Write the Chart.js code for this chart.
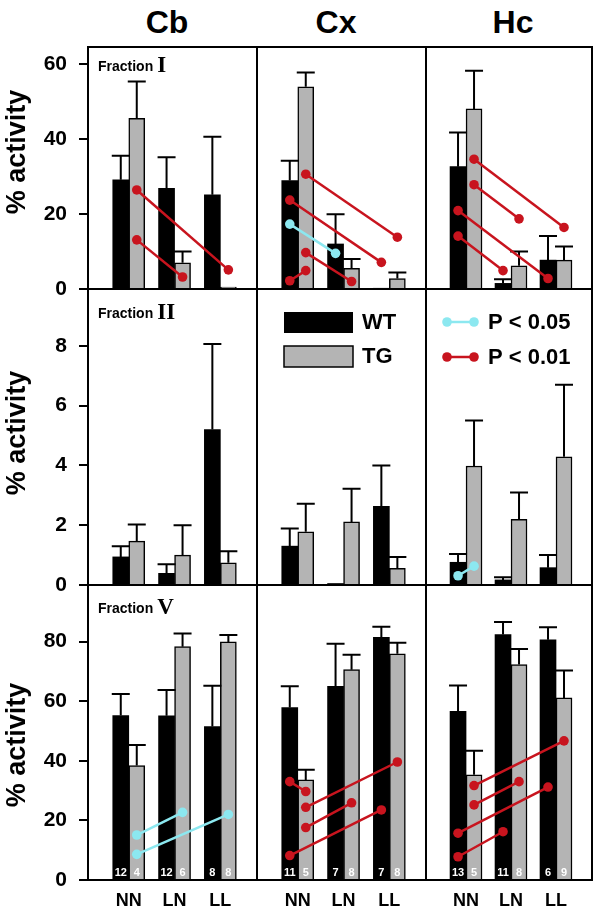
<!DOCTYPE html>
<html>
<head>
<meta charset="utf-8">
<script src="https://cdn.jsdelivr.net/npm/chart.js@4.4.1/dist/chart.umd.min.js"></script>
<style>
  html, body { margin: 0; padding: 0; background: #fff; }
  #fig { position: relative; width: 600px; height: 910px; overflow: hidden; font-family: 'Liberation Sans', Arial, sans-serif; }
  #fig canvas { position: absolute; }
  .col-title { position: absolute; top: 6px; width: 100px; margin-left: -50px; text-align: center;
               font-weight: bold; font-size: 32px; line-height: 32px; color: #000; }
</style>
</head>
<body>
<div id="fig">
  <div class="col-title" style="left:167px">Cb</div>
  <div class="col-title" style="left:336px">Cx</div>
  <div class="col-title" style="left:513px">Hc</div>
</div>
<script>
// categories
const groups = ['NN', 'LN', 'LL'];
const regions = ['Cb', 'Cx', 'Hc'];
const fractions = ['I', 'II', 'V'];

// % activity, one row per region (Cb, Cx, Hc), one value per group (NN, LN, LL)
const wtI      = [[29.1, 26.8, 25.1], [28.9, 12.0, 0.2], [32.6, 1.5, 7.7]];
const wtI_sem  = [[6.4, 8.3, 15.5], [5.3, 7.9, 0], [9.1, 1.1, 6.4]];
const tgI      = [[45.5, 7.0, 0.5], [53.9, 5.5, 2.8], [48.0, 6.2, 7.7]];
const tgI_sem  = [[9.8, 3.0, 0], [3.8, 2.5, 1.6], [10.2, 3.8, 3.6]];

const wtII     = [[0.94, 0.39, 5.2], [1.3, 0.05, 2.63], [0.76, 0.17, 0.58]];
const wtII_sem = [[0.36, 0.30, 2.86], [0.59, 0, 1.37], [0.28, 0.09, 0.42]];
const tgII     = [[1.47, 1.0, 0.74], [1.78, 2.11, 0.56], [3.98, 2.2, 4.29]];
const tgII_sem = [[0.55, 1.0, 0.39], [0.94, 1.11, 0.38], [1.52, 0.89, 2.41]];

const wtV      = [[55.2, 55.1, 51.5], [57.9, 65.0, 81.4], [56.6, 82.4, 80.6]];
const wtV_sem  = [[7.2, 8.7, 13.7], [7.1, 14.3, 3.6], [8.7, 4.2, 4.2]];
const tgV      = [[38.4, 78.3, 79.9], [33.6, 70.6, 75.9], [35.3, 72.3, 61.1]];
const tgV_sem  = [[6.9, 4.4, 2.3], [3.4, 5.0, 3.7], [8.1, 5.2, 9.2]];

// number of animals
const nWT = [[12, 12, 8], [11, 7, 7], [13, 11, 6]];
const nTG = [[4, 6, 8], [5, 8, 8], [5, 8, 9]];

// y axes
const yMax  = [64.5, 9.9, 99];
const yStep = [20, 2, 20];

// significant pairs: [p, group, genotype, value, group, genotype, value]
const sigI = [
  [[0.01,'NN','TG',26.4,'LL','TG',5.1], [0.01,'NN','TG',13.1,'LN','TG',3.2]],
  [[0.01,'NN','TG',30.6,'LL','TG',13.8], [0.01,'NN','WT',23.7,'LL','WT',7.1], [0.05,'NN','WT',17.3,'LN','WT',9.5],
   [0.01,'NN','TG',9.7,'LN','TG',2.0], [0.01,'NN','WT',2.2,'NN','TG',4.9]],
  [[0.01,'NN','TG',34.6,'LL','TG',16.4], [0.01,'NN','TG',27.8,'LN','TG',18.7], [0.01,'NN','WT',20.9,'LL','WT',2.8],
   [0.01,'NN','WT',14.1,'LN','WT',4.9]]
];
const sigII = [[], [], [[0.05,'NN','WT',0.31,'NN','TG',0.63]]];
const sigV = [
  [[0.05,'NN','TG',15.1,'LN','TG',22.7], [0.05,'NN','TG',8.6,'LL','TG',22.0]],
  [[0.01,'NN','WT',33.0,'NN','TG',29.7], [0.01,'NN','TG',24.4,'LL','TG',39.6], [0.01,'NN','TG',17.6,'LN','TG',25.9],
   [0.01,'NN','WT',8.2,'LL','WT',23.5]],
  [[0.01,'NN','TG',31.7,'LL','TG',46.7], [0.01,'NN','TG',25.2,'LN','TG',33.0], [0.01,'NN','WT',15.7,'LL','WT',31.2],
   [0.01,'NN','WT',7.8,'LN','WT',16.2]]
];

const rowsWT  = [wtI, wtII, wtV],  rowsWTsem = [wtI_sem, wtII_sem, wtV_sem];
const rowsTG  = [tgI, tgII, tgV],  rowsTGsem = [tgI_sem, tgII_sem, tgV_sem];
const rowsSig = [sigI, sigII, sigV];

// layout of the panel grid (page pixels)
const colL = [88, 257, 426], colR = [257, 426, 592];
const rowT = [47, 289, 585], rowB = [289, 585, 880];
const M = 16;
const FONT = "'Liberation Sans', Arial, sans-serif";
const GRAY = '#b4b4b4', RED = '#c8141e', CYAN = '#8ce8f0';
const titleMid = [105, 144, 160];
const fracBase = [24, 29, 28];

const fig = document.getElementById('fig');

function dot(ctx, x, y, col) {
  ctx.fillStyle = col;
  ctx.beginPath(); ctx.arc(x, y, 4.8, 0, Math.PI * 2); ctx.fill();
}

function decor(r, c) {
  return {
    id: 'decor',
    afterDatasetsDraw(chart) {
      const {ctx, chartArea: a, scales: {y}} = chart;
      const means = [rowsWT[r][c], rowsTG[r][c]];
      const sems = [rowsWTsem[r][c], rowsTGsem[r][c]];
      ctx.save();
      // error bars (upper only)
      ctx.strokeStyle = '#000'; ctx.lineWidth = 2;
      [0, 1].forEach(di => {
        chart.getDatasetMeta(di).data.forEach((bar, i) => {
          if (!sems[di][i]) return;
          const yt = y.getPixelForValue(means[di][i] + sems[di][i]);
          ctx.beginPath();
          ctx.moveTo(bar.x, bar.y); ctx.lineTo(bar.x, yt);
          ctx.moveTo(bar.x - 9, yt); ctx.lineTo(bar.x + 9, yt);
          ctx.stroke();
        });
      });
      // n per bar
      if (r === 2) {
        ctx.fillStyle = '#fff';
        ctx.font = 'bold 11px ' + FONT;
        ctx.textAlign = 'center'; ctx.textBaseline = 'middle';
        [nWT[c], nTG[c]].forEach((ns, di) => {
          chart.getDatasetMeta(di).data.forEach((bar, i) => ctx.fillText(String(ns[i]), bar.x, a.bottom - 7));
        });
      }
      // significance lines
      rowsSig[r][c].forEach(s => {
        const col = s[0] === 0.05 ? CYAN : RED;
        const b1 = chart.getDatasetMeta(s[2] === 'WT' ? 0 : 1).data[groups.indexOf(s[1])];
        const b2 = chart.getDatasetMeta(s[5] === 'WT' ? 0 : 1).data[groups.indexOf(s[4])];
        const y1 = y.getPixelForValue(s[3]), y2 = y.getPixelForValue(s[6]);
        ctx.strokeStyle = col; ctx.lineWidth = 2.5;
        ctx.beginPath(); ctx.moveTo(b1.x, y1); ctx.lineTo(b2.x, y2); ctx.stroke();
        dot(ctx, b1.x, y1, col); dot(ctx, b2.x, y2, col);
      });
      ctx.restore();
    },
    afterDraw(chart) {
      const {ctx, chartArea: a} = chart;
      ctx.save();
      ctx.strokeStyle = '#000'; ctx.lineWidth = 2;
      ctx.strokeRect(a.left, a.top, a.right - a.left, a.bottom - a.top);
      ctx.fillStyle = '#000';
      if (c === 0) {
        // fraction label
        ctx.textBaseline = 'alphabetic'; ctx.textAlign = 'left';
        ctx.font = 'bold 14px ' + FONT;
        const fx = a.left + 10, fy = a.top + fracBase[r];
        ctx.fillText('Fraction', fx, fy);
        const w = ctx.measureText('Fraction').width;
        ctx.font = "bold 23px 'Liberation Serif', 'Times New Roman', serif";
        ctx.fillText(fractions[r], fx + w + 4, fy + 1);
        // axis title
        ctx.save();
        ctx.translate(18, a.top + titleMid[r]);
        ctx.rotate(-Math.PI / 2);
        ctx.font = 'bold 27px ' + FONT;
        ctx.textAlign = 'center'; ctx.textBaseline = 'middle';
        ctx.fillText('% activity', 0, 0);
        ctx.restore();
      }
      if (r === 1 && c === 1) {
        ctx.lineWidth = 1.5;
        ctx.fillStyle = '#000';
        ctx.fillRect(a.left + 27, a.top + 23, 69, 21);
        ctx.fillStyle = GRAY;
        ctx.fillRect(a.left + 27, a.top + 57, 69, 21);
        ctx.strokeRect(a.left + 27, a.top + 57, 69, 21);
        ctx.fillStyle = '#000';
        ctx.font = 'bold 22px ' + FONT;
        ctx.textAlign = 'left'; ctx.textBaseline = 'middle';
        ctx.fillText('WT', a.left + 105, a.top + 34);
        ctx.fillText('TG', a.left + 105, a.top + 68);
      }
      if (r === 1 && c === 2) {
        [[CYAN, 'P < 0.05', 33], [RED, 'P < 0.01', 68]].forEach(([col, txt, yy]) => {
          ctx.strokeStyle = col; ctx.lineWidth = 2.5;
          ctx.beginPath(); ctx.moveTo(a.left + 21, a.top + yy); ctx.lineTo(a.left + 48, a.top + yy); ctx.stroke();
          dot(ctx, a.left + 21, a.top + yy, col); dot(ctx, a.left + 48, a.top + yy, col);
          ctx.fillStyle = '#000';
          ctx.font = 'bold 22px ' + FONT;
          ctx.textAlign = 'left'; ctx.textBaseline = 'middle';
          ctx.fillText(txt, a.left + 62, a.top + yy + 1);
        });
      }
      ctx.restore();
    }
  };
}

function panel(r, c) {
  const x0 = c === 0 ? 0 : colL[c] - M;
  const x1 = c === 2 ? 600 : colR[c] + M;
  const y0 = rowT[r] - M;
  const y1 = r === 2 ? 910 : rowB[r] + M;
  const cv = document.createElement('canvas');
  cv.width = x1 - x0; cv.height = y1 - y0;
  cv.style.left = x0 + 'px'; cv.style.top = y0 + 'px';
  fig.appendChild(cv);

  new Chart(cv, {
    type: 'bar',
    data: {
      datasets: [
        { label: 'WT', data: rowsWT[r][c].map((v, i) => ({x: i + 1, y: v})),
          backgroundColor: '#000', borderColor: '#000', borderWidth: 0, barThickness: 16 },
        { label: 'TG', data: rowsTG[r][c].map((v, i) => ({x: i + 1, y: v})),
          backgroundColor: GRAY, borderColor: '#000', borderWidth: 1.5, barThickness: 16 }
      ]
    },
    options: {
      responsive: false, animation: false, events: [], devicePixelRatio: 1,
      layout: { padding: { left: c === 0 ? 0 : M, right: x1 - colR[c], top: M, bottom: r === 2 ? 0 : M } },
      plugins: { legend: { display: false }, tooltip: { enabled: false } },
      scales: {
        x: {
          type: 'linear', min: 0.11, max: 3.8, offset: false, display: r === 2,
          grid: { display: false, drawTicks: false, offset: false }, border: { display: false },
          afterBuildTicks: s => { s.ticks = groups.map((g, i) => ({value: i + 1})); },
          ticks: { callback: v => groups[v - 1], padding: 10, color: '#000', maxRotation: 0,
                   font: { family: FONT, size: 18, weight: 'bold' } },
          afterFit: s => { s.height = r === 2 ? 30 : 0; s.paddingLeft = 0; s.paddingRight = 0; }
        },
        y: {
          min: 0, max: yMax[r], display: c === 0,
          ticks: { stepSize: yStep[r], includeBounds: false, padding: 12, color: '#000',
                   font: { family: FONT, size: 21, weight: 'bold' } },
          grid: { drawOnChartArea: false, tickLength: 9, color: '#000', lineWidth: 2 },
          border: { display: false },
          afterFit: s => { s.width = c === 0 ? 88 : 0; s.paddingTop = 0; s.paddingBottom = 0; }
        }
      }
    },
    plugins: [decor(r, c)]
  });
}

for (let r = 0; r < 3; r++) for (let c = 0; c < 3; c++) panel(r, c);
</script>
</body>
</html>
